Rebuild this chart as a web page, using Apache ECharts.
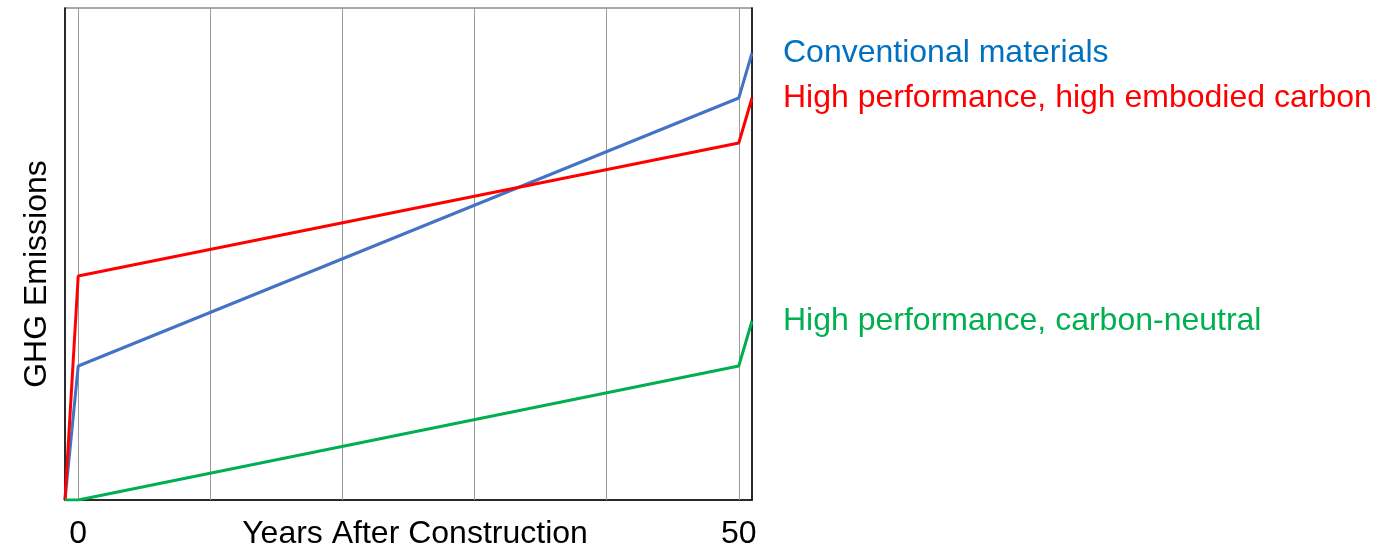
<!DOCTYPE html>
<html>
<head>
<meta charset="utf-8">
<style>
html,body{margin:0;padding:0;background:#fff;}
#chart{width:1385px;height:551px;}
</style>
<script src="https://cdn.jsdelivr.net/npm/echarts@6/dist/echarts.min.js"></script>
</head>
<body>
<div id="chart"></div>
<script>
// Data
var years = [-1, 0, 50, 51];
var conventional = [0, 134, 402, 447];
var highEmbodied = [0, 224, 357, 402];
var carbonNeutral = [0, 0, 134, 179];
var seriesNames = ['Conventional materials', 'High performance, high embodied carbon', 'High performance, carbon-neutral'];
var gridYears = [0, 10, 20, 30, 40, 50];
var xTickLabels = [0, 50];

function pairs(vals) { return years.map(function (x, i) { return [x, vals[i]]; }); }

var FONT = '"Liberation Sans", Arial, sans-serif';
var FS = 32;
var chart = echarts.init(document.getElementById('chart'));

function mkSeries(name, vals, lineColor, textColor, withGrid) {
  var s = {
    name: name,
    type: 'line',
    data: pairs(vals),
    symbol: 'none',
    lineStyle: { color: lineColor, width: 3 },
    itemStyle: { color: lineColor },
    z: 3,
    endLabel: {
      show: true,
      formatter: name,
      color: textColor,
      fontSize: FS,
      fontFamily: FONT,
      distance: 31
    },
    animation: false
  };
  if (withGrid) {
    s.markLine = {
      silent: true,
      symbol: 'none',
      label: { show: false },
      lineStyle: { color: '#9a9a9a', width: 1, type: 'solid' },
      data: gridYears.map(function (y) { return { xAxis: y }; }),
      z: 1,
      animation: false
    };
  }
  return s;
}

chart.setOption({
  backgroundColor: '#ffffff',
  animation: false,
  grid: { left: 65, top: 8, right: 633, bottom: 51, show: true, borderColor: '#8c8c8c', borderWidth: 1.5, outerBoundsMode: 'none', containLabel: false },
  xAxis: {
    type: 'value',
    min: -1,
    max: 51,
    name: 'Years After Construction',
    nameLocation: 'middle',
    nameGap: 18,
    nameMoveOverlap: false,
    nameTextStyle: { fontSize: FS, fontFamily: FONT, color: '#000', padding: [0, 0, 0, 13] },
    axisLine: { show: true, onZero: false, lineStyle: { color: '#000', width: 1.5 } },
    axisTick: { show: false },
    splitLine: { show: false },
    axisLabel: { customValues: xTickLabels, fontSize: FS, fontFamily: FONT, color: '#000', margin: 18 }
  },
  yAxis: [{
    type: 'value',
    min: 0,
    max: 492,
    name: 'GHG Emissions',
    nameLocation: 'middle',
    nameGap: 12,
    nameTextStyle: { fontSize: FS, fontFamily: FONT, color: '#000', padding: [0, 40, 0, 0] },
    axisLine: { show: true, onZero: false, lineStyle: { color: '#000', width: 1.5 } },
    axisTick: { show: false },
    axisLabel: { show: false },
    splitLine: { show: false }
  }, {
    type: 'value',
    min: 0,
    max: 492,
    position: 'right',
    axisLine: { show: true, onZero: false, lineStyle: { color: '#000', width: 1.5 } },
    axisTick: { show: false },
    axisLabel: { show: false },
    splitLine: { show: false }
  }],
  series: [
    mkSeries(seriesNames[0], conventional, '#4472C4', '#0070C0', true),
    mkSeries(seriesNames[1], highEmbodied, '#FF0000', '#FF0000', false),
    mkSeries(seriesNames[2], carbonNeutral, '#00B050', '#00B050', false)
  ]
});
</script>
</body>
</html>
